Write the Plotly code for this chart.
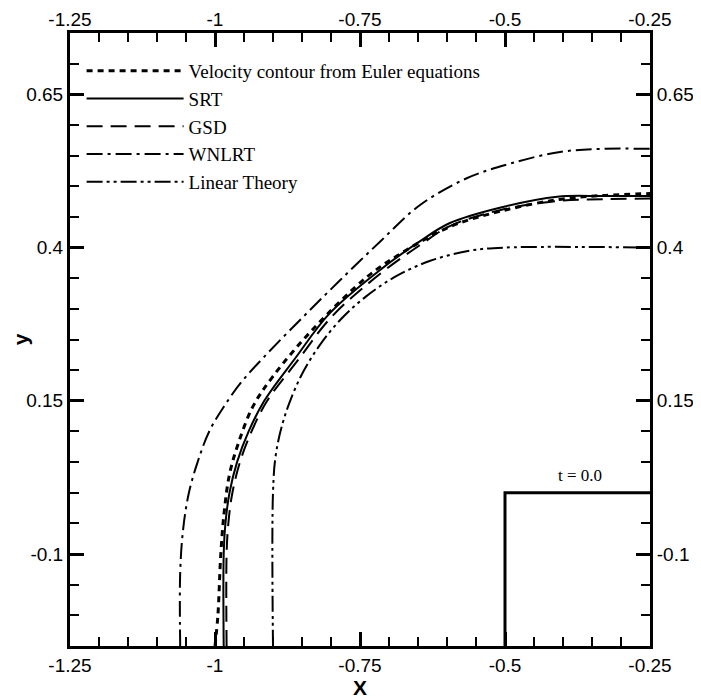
import plotly.graph_objects as go

# ---- data ----
euler_x = [-1.0, -0.995, -0.99, -0.984, -0.975, -0.96, -0.935, -0.9, -0.83, -0.738, -0.68, -0.595, -0.509, -0.41, -0.33, -0.25]
euler_y = [-0.25, -0.2, -0.1, -0.03, 0.03, 0.08, 0.14, 0.19, 0.268, 0.352, 0.39, 0.434, 0.459, 0.478, 0.485, 0.488]

srt_x = [-0.985, -0.985, -0.982, -0.975, -0.962, -0.942, -0.915, -0.862, -0.802, -0.716, -0.647, -0.595, -0.509, -0.41, -0.33, -0.25]
srt_y = [-0.25, -0.1, -0.05, 0.0, 0.05, 0.1, 0.15, 0.219, 0.293, 0.363, 0.41, 0.44, 0.465, 0.483, 0.484, 0.484]

gsd_x = [-0.98, -0.98, -0.977, -0.97, -0.957, -0.937, -0.91, -0.858, -0.798, -0.714, -0.645, -0.595, -0.509, -0.41, -0.33, -0.25]
gsd_y = [-0.25, -0.1, -0.05, 0.0, 0.05, 0.1, 0.15, 0.215, 0.288, 0.358, 0.405, 0.435, 0.461, 0.476, 0.479, 0.48]

wnlrt_x = [-1.06, -1.06, -1.055, -1.045, -1.03, -1.01, -0.985, -0.955, -0.917, -0.85, -0.784, -0.715, -0.647, -0.566, -0.491, -0.405, -0.33, -0.25]
wnlrt_y = [-0.25, -0.13, -0.06, 0.0, 0.05, 0.1, 0.14, 0.18, 0.22, 0.285, 0.347, 0.41, 0.469, 0.513, 0.537, 0.556, 0.561, 0.561]

lin_x = [-0.9, -0.9, -0.895, -0.88, -0.853, -0.82, -0.783, -0.74, -0.69, -0.63, -0.56, -0.5, -0.25]
lin_y = [-0.25, 0.0, 0.063, 0.124, 0.188, 0.24, 0.283, 0.32, 0.352, 0.378, 0.395, 0.4, 0.4]

box_x = [-0.5, -0.5, -0.25]
box_y = [-0.25, 0.0, 0.0]

x_ticks = [-1.25, -1.0, -0.75, -0.5, -0.25]
x_labels = ["-1.25", "-1", "-0.75", "-0.5", "-0.25"]
y_ticks = [-0.1, 0.15, 0.4, 0.65]
y_labels = ["-0.1", "0.15", "0.4", "0.65"]

names = ["Velocity contour from Euler equations", "SRT", "GSD", "WNLRT", "Linear Theory"]

fig = go.Figure()
fig.add_trace(go.Scatter(x=euler_x, y=euler_y, mode="lines", name=names[0], line_shape="spline",
                         line=dict(color="black", width=3, dash="6px,5px")))
fig.add_trace(go.Scatter(x=srt_x, y=srt_y, mode="lines", name=names[1], line_shape="spline",
                         line=dict(color="black", width=2)))
fig.add_trace(go.Scatter(x=gsd_x, y=gsd_y, mode="lines", name=names[2], line_shape="spline",
                         line=dict(color="black", width=2, dash="16px,8px")))
fig.add_trace(go.Scatter(x=wnlrt_x, y=wnlrt_y, mode="lines", name=names[3], line_shape="spline",
                         line=dict(color="black", width=2, dash="16px,5px,3px,5px")))
fig.add_trace(go.Scatter(x=lin_x, y=lin_y, mode="lines", name=names[4], line_shape="spline",
                         line=dict(color="black", width=2, dash="16px,4px,3px,4px,3px,4px")))
fig.add_trace(go.Scatter(x=box_x, y=box_y, mode="lines", showlegend=False, xaxis="x2", yaxis="y2",
                         line=dict(color="black", width=3)))

tickfont = dict(family="Liberation Sans, Arial", size=19, color="black")
common = dict(showline=True, linecolor="black", linewidth=3, ticks="inside", ticklen=14, tickwidth=3,
              tickcolor="black", showgrid=False, zeroline=False, tickfont=tickfont)
xminor = dict(ticks="inside", ticklen=9, tickwidth=1.5, tickcolor="black", dtick=0.05, tick0=-1.25, showgrid=False)
yminor = dict(ticks="inside", ticklen=9, tickwidth=1.5, tickcolor="black", dtick=0.05, tick0=-0.1, showgrid=False)

fig.update_layout(
    width=693, height=692,
    margin=dict(l=62, r=51, t=25, b=54, autoexpand=False),
    plot_bgcolor="white", paper_bgcolor="white",
    font=dict(family="Liberation Serif, Times New Roman", color="black"),
    xaxis=dict(range=[-1.25, -0.25], tickvals=x_ticks, ticktext=x_labels, minor=xminor, mirror=True, **common),
    yaxis=dict(range=[-0.25, 0.75], tickvals=y_ticks, ticktext=y_labels, minor=yminor, mirror=True, **common),
    xaxis2=dict(range=[-1.25, -0.25], tickvals=x_ticks, ticktext=x_labels, minor=xminor, overlaying="x",
                side="top", ticklabelstandoff=-4, **common),
    yaxis2=dict(range=[-0.25, 0.75], tickvals=y_ticks, ticktext=y_labels, minor=yminor, overlaying="y",
                side="right", **common),
    legend=dict(x=0.02, y=0.969, xanchor="left", yanchor="top", bgcolor="rgba(0,0,0,0)",
                font=dict(family="Liberation Serif, Times New Roman", size=19), itemwidth=97,
                tracegroupgap=0),
    showlegend=True,
    annotations=[
        dict(text="<b>y</b>", xref="paper", yref="paper", x=-0.085, y=0.5, xanchor="center", yanchor="middle",
             showarrow=False, font=dict(family="Liberation Sans, Arial", size=21), textangle=-90),
        dict(text="<b>X</b>", xref="paper", yref="paper", x=0.5, y=-0.067, xanchor="center", yanchor="middle",
             showarrow=False, font=dict(family="Liberation Sans, Arial", size=21)),
        dict(text="t = 0.0", xref="x", yref="y", x=-0.371, y=0.0, yanchor="bottom", yshift=6,
             showarrow=False, font=dict(family="Liberation Serif, Times New Roman", size=17)),
    ],
)

fig.write_html("out.html")
